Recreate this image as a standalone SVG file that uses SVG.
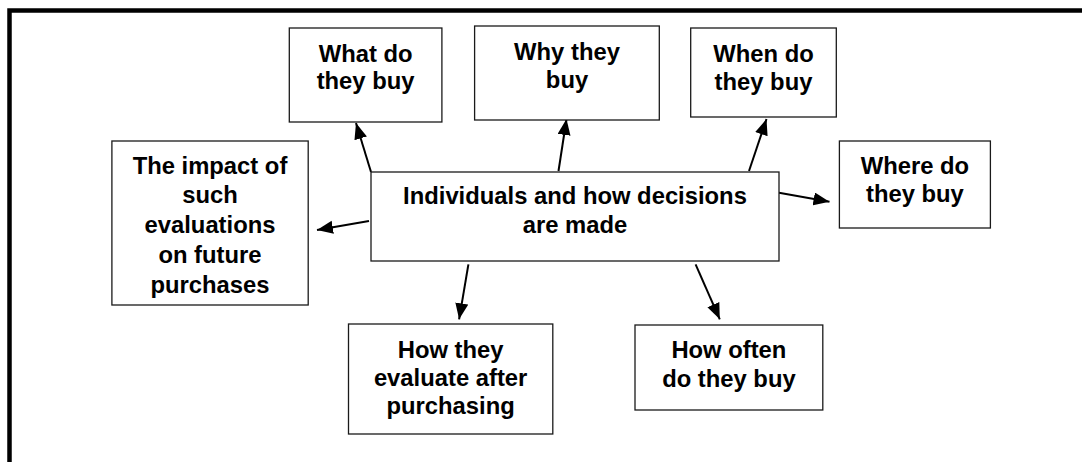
<svg xmlns="http://www.w3.org/2000/svg" width="1082" height="462" viewBox="0 0 1082 462">
  <style>
    .box { fill: #ffffff; stroke: #1a1a1a; stroke-width: 1.3; }
    .label { font-family: "Liberation Sans", Arial, sans-serif; font-weight: bold; font-size: 23.8px; fill: #000000; text-anchor: middle; }
    .link { stroke: #000000; stroke-width: 2; fill: none; marker-end: url(#head); }
    .frame { stroke: #000000; stroke-width: 4.5; fill: none; }
  </style>
  <defs>
    <marker id="head" markerUnits="userSpaceOnUse" markerWidth="18" markerHeight="14" refX="16" refY="6.5" orient="auto">
      <path d="M0,0 L16,6.5 L0,13 Z" fill="#000000"/>
    </marker>
  </defs>

  <rect width="1082" height="462" fill="#ffffff"/>

  <!-- outer frame: top and left edges only -->
  <path class="frame" d="M1082,10.5 H9.5 V462"/>

  <!-- connectors from the central topic -->
  <g id="connectors">
    <line class="link" x1="371" y1="172" x2="356" y2="123"/>
    <line class="link" x1="558.5" y1="171" x2="566.5" y2="119"/>
    <line class="link" x1="749" y1="171" x2="766.5" y2="119"/>
    <line class="link" x1="779" y1="192.7" x2="829.5" y2="201.7"/>
    <line class="link" x1="369" y1="221" x2="317" y2="230"/>
    <line class="link" x1="468.4" y1="264.3" x2="459.1" y2="319.3"/>
    <line class="link" x1="695.6" y1="264.3" x2="719.8" y2="319.3"/>
  </g>

  <g id="center">
    <rect class="box" x="371" y="172" width="408" height="89"/>
    <text class="label" x="575" y="204">Individuals and how decisions</text>
    <text class="label" x="575" y="232.7">are made</text>
  </g>

  <g id="what">
    <rect class="box" x="289.3" y="28" width="152.6" height="94"/>
    <text class="label" x="365.6" y="61.7">What do</text>
    <text class="label" x="365.6" y="89.3">they buy</text>
  </g>

  <g id="why">
    <rect class="box" x="474.6" y="26" width="184.7" height="94"/>
    <text class="label" x="567" y="60">Why they</text>
    <text class="label" x="567" y="88.3">buy</text>
  </g>

  <g id="when">
    <rect class="box" x="690.7" y="28" width="145.6" height="89"/>
    <text class="label" x="763.5" y="61.7">When do</text>
    <text class="label" x="763.5" y="90">they buy</text>
  </g>

  <g id="where">
    <rect class="box" x="839.4" y="141" width="151" height="87"/>
    <text class="label" x="914.9" y="174">Where do</text>
    <text class="label" x="914.9" y="202.3">they buy</text>
  </g>

  <g id="impact">
    <rect class="box" x="111.9" y="141" width="196.3" height="164"/>
    <text class="label" x="210" y="173.5">The impact of</text>
    <text class="label" x="210" y="202.5">such</text>
    <text class="label" x="210" y="232.5">evaluations</text>
    <text class="label" x="210" y="262.5">on future</text>
    <text class="label" x="210" y="292.5">purchases</text>
  </g>

  <g id="evaluate">
    <rect class="box" x="348.5" y="324" width="204.3" height="110"/>
    <text class="label" x="450.6" y="358">How they</text>
    <text class="label" x="450.6" y="386.3">evaluate after</text>
    <text class="label" x="450.6" y="414.3">purchasing</text>
  </g>

  <g id="often">
    <rect class="box" x="635" y="325" width="187.8" height="85"/>
    <text class="label" x="728.9" y="358">How often</text>
    <text class="label" x="728.9" y="387">do they buy</text>
  </g>
</svg>
